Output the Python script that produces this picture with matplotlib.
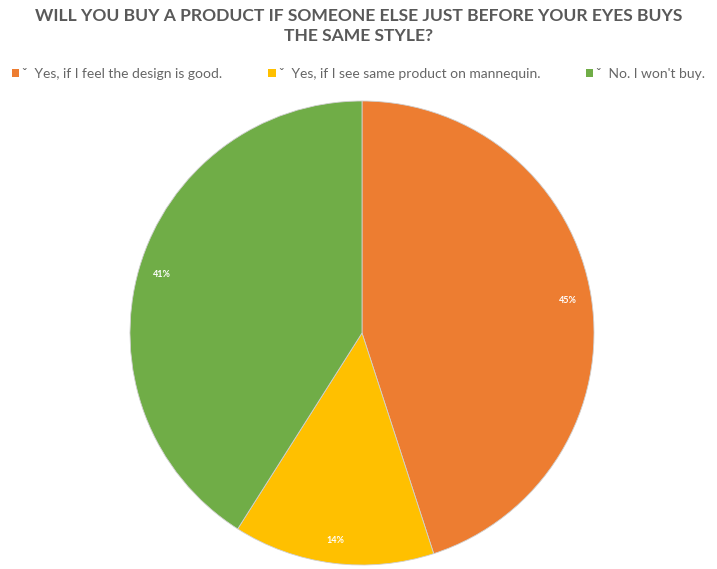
import matplotlib.pyplot as plt
from matplotlib.patches import Patch

# answers to the survey question, share of respondents in %
answers = ['Yes, if I feel the design is good.',
           'Yes, if I see same product on mannequin.',
           "No. I won't buy."]
shares = [45, 14, 41]
colors = ['#ED7D31', '#FFC000', '#70AD47']

plt.rcParams['font.family'] = ['Lato', 'DejaVu Sans']

fig = plt.figure(figsize=(7.17, 5.69), dpi=100)

# pie circle: centre ~ (362, 333) px, radius ~232 px
ax = fig.add_axes([130 / 717, 4 / 569, 464 / 717, 464 / 569])
wedges, texts, autotexts = ax.pie(
    shares, colors=colors, startangle=90, counterclock=False,
    autopct='%1.0f%%', pctdistance=0.9, radius=1.0,
    wedgeprops={'linewidth': 0.6, 'edgecolor': '#d0d0d0'},
)
for t in autotexts:
    t.set_color('white')
    t.set_fontsize(6.5)
    t.set_fontweight('bold')
ax.set_xlim(-1, 1)
ax.set_ylim(-1, 1)
ax.set_aspect('equal')
ax.axis('off')

fig.text(0.5, 1 - 26 / 569,
         'WILL YOU BUY A PRODUCT IF SOMEONE ELSE JUST BEFORE YOUR EYES BUYS\nTHE SAME STYLE?',
         ha='center', va='center', fontsize=12.6, fontweight='bold',
         color='#595959', linespacing=1.25)

handles = [Patch(facecolor=c, edgecolor='none') for c in colors]
labels = ['\u02c7  ' + a for a in answers]
fig.legend(handles, labels, loc='center', bbox_to_anchor=(0.5, 1 - 74 / 569),
           ncol=3, frameon=False, fontsize=10, handlelength=0.55, handleheight=0.55,
           handletextpad=0.2, columnspacing=3.3, labelcolor='#666666')

fig.savefig('out.png', dpi=100)
